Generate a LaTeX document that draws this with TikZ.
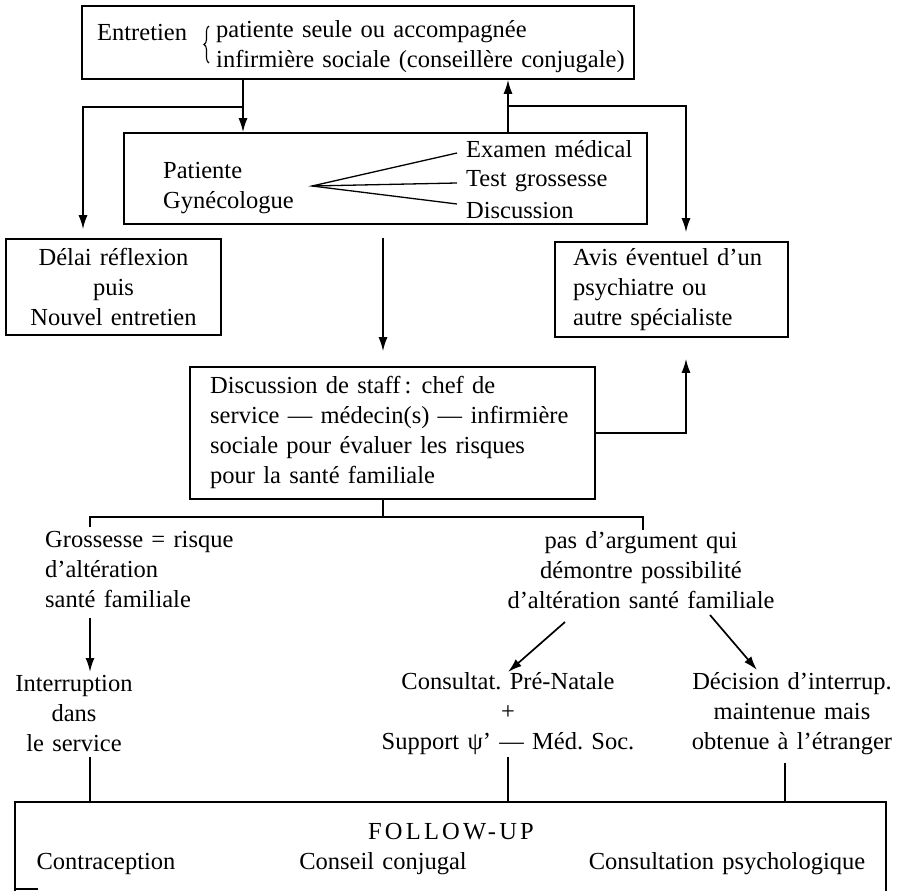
\documentclass[tikz,border=0pt]{standalone}
\usepackage{fontspec}
\setmainfont{Liberation Serif}[WordSpace=1.35]
\usetikzlibrary{arrows.meta,decorations.pathreplacing}
\begin{document}
\begin{tikzpicture}[x=1pt,y=-1pt,
  every node/.style={inner sep=0pt, font=\fontsize{24.5}{30}\selectfont},
  box/.style={draw, line width=1.6pt, rectangle},
  ln/.style={line width=1.7pt},
  fan/.style={line width=1.3pt},
  arr/.style={ln, -{Latex[length=14pt,width=9pt]}},
]
\useasboundingbox (0,0) rectangle (898,891);

% top box
\node[box, minimum width=552pt, minimum height=73pt] (entretien) at (358,42.5) {};
\node[anchor=west] (entl) at (97,33) {Entretien};
\node[anchor=west, align=left] (entr) at (216,47) {patiente seule ou accompagnée\\infirmière sociale (conseillère conjugale)};
\coordinate (b1) at (209,63);
\coordinate (b2) at (209,26);
\draw[line width=1.1pt, decorate, decoration={brace, amplitude=5pt}] (b1) -- (b2);

% second box
\node[box, minimum width=523pt, minimum height=91pt] (box2) at (385.5,178.5) {};
\node[anchor=west, align=left] (pg) at (163,188) {Patiente\\Gynécologue};
\node[anchor=west] (exam) at (466,149) {Examen médical};
\node[anchor=west] (test) at (466,181) {Test grossesse};
\node[anchor=west] (disc) at (466,211) {Discussion};
\coordinate (apex) at (312,186);
\coordinate (f1) at (457,153);
\coordinate (f2) at (457,183);
\coordinate (f3) at (457,204);
\draw[fan] (f1) -- (apex) -- (f3);
\draw[fan] (apex) -- (f2);

% side boxes
\node[box, minimum width=215pt, minimum height=96pt, align=center] (delai) at (113.5,287) {Délai réflexion\\puis\\Nouvel entretien};
\node[box, minimum width=233pt, minimum height=95pt] (avis) at (671.5,289.5) {};
\node[anchor=west, align=left] (avist) at (573,290) {Avis éventuel d’un\\psychiatre ou\\autre spécialiste};

% staff box
\node[box, minimum width=405pt, minimum height=132pt] (staff) at (392.5,433) {};
\node[anchor=west, align=left] (stafft) at (210,432) {Discussion de staff\,: chef de\\service — médecin(s) — infirmière\\sociale pour évaluer les risques\\pour la santé familiale};

% connectors top
\coordinate (j1) at (243,107);
\draw[arr] (j1 |- entretien.south) -- (j1 |- box2.north);
\draw[arr, shorten >=9pt] (j1) -| ([xshift=-30.5pt]delai.north);
\coordinate (j2) at (508,106);
\draw[arr] (j2 |- box2.north) -- (j2 |- entretien.south);
\draw[arr, shorten >=9pt] (j2) -| ([xshift=14.5pt]avis.north);
\draw[arr, shorten <=13pt, shorten >=15pt] ([xshift=-2.5pt]box2.south) -- ([xshift=-9.5pt]staff.north);
\draw[arr, shorten >=21pt] (staff.east) -| ([xshift=14.5pt]avis.south);

% split
\coordinate (s1) at (90,517);
\coordinate (s2) at (643,517);
\draw[ln] ([xshift=-9.5pt]staff.south) -- ([xshift=-9.5pt]staff.south |- s1);
\draw[ln] ([yshift=-10pt]s1) -- (s1) -- (s2) -- ([yshift=-13pt]s2);

% left branch
\node[anchor=west, align=left] (gross) at (45,570) {Grossesse = risque\\d’altération\\santé familiale};
\node[align=center] (interr) at (74,714) {Interruption\\dans\\le service};
\coordinate (g1) at (90,618);
\coordinate (g2) at (90,672);
\draw[arr] (g1) -- (g2);
\coordinate (i1) at (90,757);

% right branch
\node[align=center] (pas) at (641,570) {pas d’argument qui\\démontre possibilité\\d’altération santé familiale};
\node[align=center] (consult) at (508,714) {Consultat.\ Pré-Natale\\+\\Support ψ' — Méd.\ Soc.};
\node[align=center] (decis) at (792,714) {Décision d’interrup.\\maintenue mais\\obtenue à l’étranger};
\coordinate (d1s) at (565,622);
\coordinate (d1e) at (508,672);
\coordinate (d2s) at (710,615);
\coordinate (d2e) at (757,670);
\draw[arr] (d1s) -- (d1e);
\draw[arr] (d2s) -- (d2e);
\coordinate (c1) at (508,757);
\coordinate (e1) at (785,763);

% follow-up box
\node[minimum width=871pt, minimum height=89pt] (follow) at (450.5,846.5) {};
\draw[ln] (follow.south west) -- (follow.north west) -- (follow.north east) -- (follow.south east);
\draw[ln] ([yshift=2pt]follow.south west) -- ([xshift=23pt,yshift=2pt]follow.south west);
\draw[ln] (i1) -- (i1 |- follow.north);
\draw[ln] (c1) -- (c1 |- follow.north);
\draw[ln] (e1) -- (e1 |- follow.north);
\node (fu) at (451,832) {\addfontfeature{LetterSpace=13}FOLLOW-UP};
\node (contra) at (106,864) {Contraception};
\node (conseil) at (383,864) {Conseil conjugal};
\node (psy) at (727,864) {Consultation psychologique};
\end{tikzpicture}
\end{document}
